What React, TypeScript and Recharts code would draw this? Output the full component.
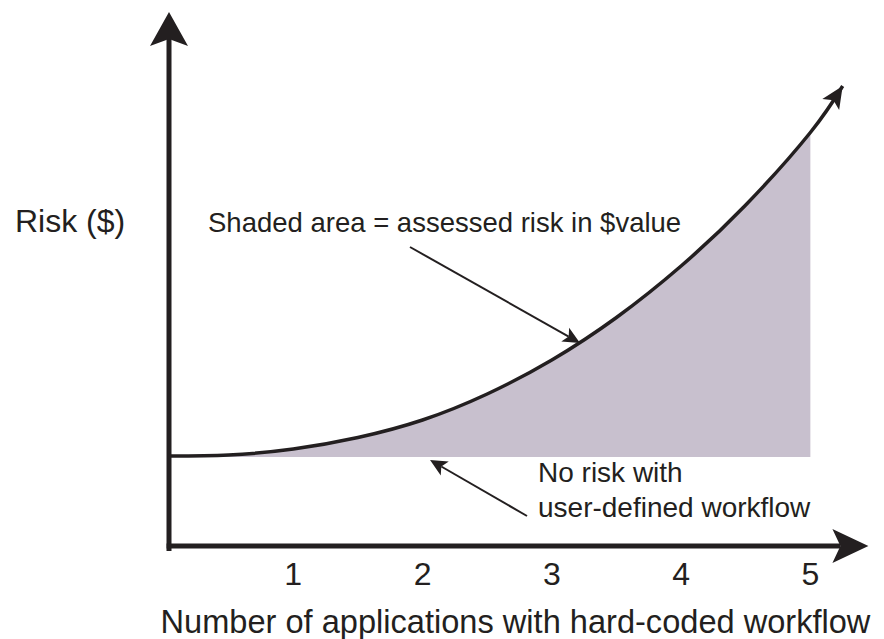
import { ComposedChart, Area, Line, XAxis, YAxis, ReferenceLine } from 'recharts'

// curve (x = number of apps, risk in arbitrary units)
const appCounts = [0.04, 0.5, 1, 1.5, 2, 2.5, 3, 3.5, 4, 4.5, 5, 5.25]
const riskValues = [0.9, 0.91, 0.97, 1.085, 1.26, 1.52, 1.86, 2.285, 2.8, 3.41, 4.135, 4.6]
const noRiskLevel = 0.89
const shadedUpTo = 5
const xTicks = [1, 2, 3, 4, 5]

const INK = '#231f20'
const SHADE = '#c8c0ce'
const FONT = '"Liberation Sans", Arial, Helvetica, sans-serif'

const data = appCounts.map((x, i) => ({
  x,
  risk: riskValues[i],
  band: x <= shadedUpTo ? [noRiskLevel, riskValues[i]] : null,
}))

type HeadOpts = { len: number; half: number; notch: number; width: number; shaft?: boolean; cap?: 'butt' | 'square' }

// reference line drawn as an arrow with a notched head at (x2, y2)
const arrow = ({ len, half, notch, width, shaft = true, cap = 'butt' }: HeadOpts) => (props: any) => {
  const { x1, y1, x2, y2 } = props
  const dx = x2 - x1
  const dy = y2 - y1
  const d = Math.hypot(dx, dy) || 1
  const ux = dx / d, uy = dy / d
  const nx = -uy, ny = ux
  const bx = x2 - ux * len, by = y2 - uy * len
  const mx = x2 - ux * (len - notch), my = y2 - uy * (len - notch)
  const pts = [
    [x2, y2],
    [bx + nx * half, by + ny * half],
    [mx, my],
    [bx - nx * half, by - ny * half],
  ].map(p => p.join(',')).join(' ')
  return (
    <g>
      {shaft && (
        <line x1={x1} y1={y1} x2={mx} y2={my} stroke={INK} strokeWidth={width} strokeLinecap={cap} />
      )}
      <polygon points={pts} fill={INK} />
    </g>
  )
}

export default function App() {
  return (
    <div style={{ position: 'absolute', left: 0, top: 0, width: 884, height: 639, fontFamily: FONT, background: '#fff' }}>
      <ComposedChart width={884} height={639} data={data} margin={{ top: 12, right: 9, bottom: 0, left: 164 }}>
        <XAxis
          type="number"
          dataKey="x"
          domain={[0, 5.5]}
          ticks={xTicks}
          axisLine={false}
          tickLine={false}
          tickSize={0}
          tickMargin={16}
          height={93}
          tick={{ fontSize: 32, fill: INK }}
          label={{
            value: 'Number of applications with hard-coded workflow',
            position: 'insideBottom',
            offset: 6,
            dx: -4,
            fontSize: 32.6,
            fill: INK,
          }}
        />
        <YAxis type="number" domain={[0, 5.34]} hide />
        <Area
          type="natural"
          dataKey="band"
          fill={SHADE}
          fillOpacity={1}
          stroke="none"
          isAnimationActive={false}
          activeDot={false}
        />
        <Line
          type="natural"
          dataKey="risk"
          stroke={INK}
          strokeWidth={3.5}
          dot={false}
          activeDot={false}
          isAnimationActive={false}
        />
        {/* axes with arrow heads */}
        <ReferenceLine
          ifOverflow="visible"
          segment={[{ x: 0.0387, y: -0.025 }, { x: 0.0387, y: 5.34 }]}
          shape={arrow({ len: 34, half: 19, notch: 7, width: 5, cap: 'square' })}
        />
        <ReferenceLine
          ifOverflow="visible"
          segment={[{ x: 0.02, y: 0 }, { x: 5.449, y: 0 }]}
          shape={arrow({ len: 36, half: 17, notch: 8, width: 5 })}
        />
        {/* head at the end of the risk curve */}
        <ReferenceLine
          ifOverflow="visible"
          segment={[{ x: 5.13, y: 4.36 }, { x: 5.25, y: 4.6 }]}
          shape={arrow({ len: 22, half: 10, notch: 5, width: 0, shaft: false })}
        />
        {/* annotation pointers */}
        <ReferenceLine
          ifOverflow="visible"
          segment={[{ x: 1.903, y: 2.99 }, { x: 3.218, y: 2.03 }]}
          shape={arrow({ len: 17, half: 8, notch: 4, width: 2 })}
        />
        <ReferenceLine
          ifOverflow="visible"
          segment={[{ x: 2.808, y: 0.3 }, { x: 2.058, y: 0.86 }]}
          shape={arrow({ len: 17, half: 8, notch: 4, width: 2 })}
        />
      </ComposedChart>
      <svg width={884} height={639} style={{ position: 'absolute', left: 0, top: 0, pointerEvents: 'none' }}>
        <g fill={INK} fontFamily={FONT}>
          <text x={15} y={232} fontSize={32}>Risk ($)</text>
          <text x={208} y={232} fontSize={27.5}>Shaded area = assessed risk in $value</text>
          <text x={538} y={482} fontSize={28}>No risk with</text>
          <text x={538} y={517} fontSize={28}>user-defined workflow</text>
        </g>
      </svg>
    </div>
  )
}
